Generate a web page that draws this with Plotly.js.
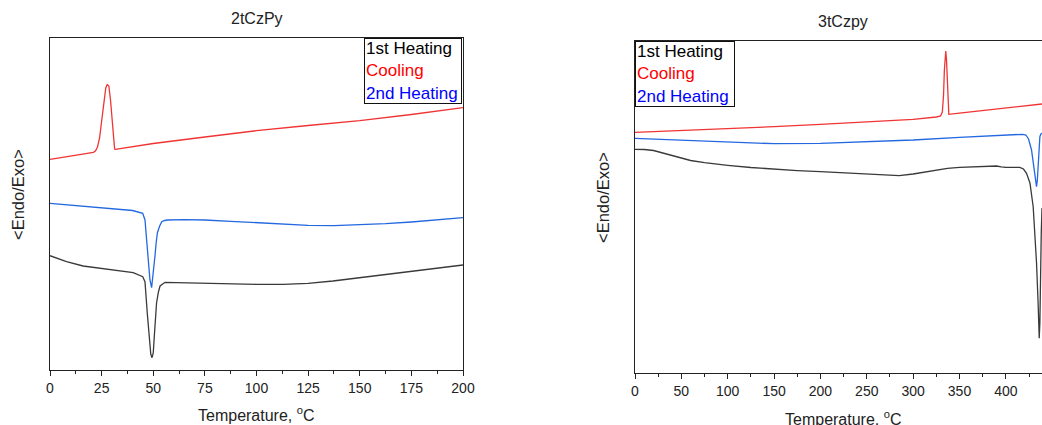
<!DOCTYPE html>
<html>
<head>
<meta charset="utf-8">
<script src="https://cdn.plot.ly/plotly-3.0.1.min.js"></script>
<style>html,body{margin:0;padding:0;background:#fff;}#chart{width:1042px;height:425px;}</style>
</head>
<body>
<div id="chart"></div>
<script>
// ---- 2tCzPy (left panel) ----
var left_heat1_T = [0,8,16,24.2,32.3,40.3,44.9,46,47.1,48.1,48.8,49.4,50,50.5,51.6,52.5,53.3,55.7,62.9,75,88.7,100,112.9,125,137,150,163,175,187,200];
var left_heat1_Q = [114.3,108.3,104,101.7,99.3,97.3,93.3,88.3,57,30,16,12.3,17,33.3,67,78,84,87.7,87.3,86.7,86,85.7,85.7,86.7,89,92.3,95.7,98.3,101.3,105];

var left_cool_T = [0,10,20,21,22,23,24,25,26,27,27.7,28.5,29.3,30,30.7,31.3,31.7,40,50,75,100,125,150,175,200];
var left_cool_Q = [210.7,214,217.2,217.7,219,223,232,248,267,282,285.5,284,270,250,230,221,220.7,223.5,226.5,233,239.3,244.5,249.3,255.5,262.3];

var left_heat2_T = [0,10,20,30,40,44.9,46,46.8,47.6,48.4,49.2,50,50.8,51.4,52,53,54.1,55.5,57,65,75,87.5,100,112.5,125,137.5,150,162.5,175,187.5,200];
var left_heat2_Q = [166.7,165,163.3,161.7,159.5,156.7,150,130,107,90,82.3,95,113.3,127,137,143.5,148.3,149.5,150,150.3,150,148.7,147.3,145.7,144.7,144.3,145,146.3,148,150,152.3];

// ---- 3tCzpy (right panel) ----
var right_heat1_T = [0,10,20,30,40,48.5,60,75,87,100,125,150,175,200,225,250,270,285,300,312,325,337,350,370,390,395,400,415,419,422.3,426,429.5,431.5,433.1,434.8,436,436.7,437.4,438.2,439];
var right_heat1_Q = [223.7,223.5,222.5,220,217,214.7,212.5,210.3,208.8,207.7,205.5,203.7,202.4,201.3,200.2,199,198,197.3,199,201,203,204.6,205.7,206.5,207,206.2,205.7,205.7,204,199.7,190,166.3,135,110,70,34.7,50,106.3,140,165];

var right_cool_T = [0,50,100,150,200,250,300,325,329.6,331.5,332.8,333.7,334.5,335.2,336,336.8,337.7,338.5,350,375,400,425,439];
var right_cool_Q = [240.7,242.5,244.3,246.3,248.7,251,253.7,256,257,261,278,303,320,322,313,288,265,258.7,259.8,262.3,264.8,267.3,269];

var right_heat2_T = [0,25,50,100,150,200,250,300,350,400,418,421.6,424.5,427.7,430,431.8,433.1,434,434.9,435.8,436.7,437.8,439];
var right_heat2_Q = [234.7,233.7,232.7,230.7,229.3,229.7,231,233,235.7,238,238.7,238,234,223,209,194,186.3,193,209.7,225,236.3,239,239.7];

var panelTitles = ["2tCzPy", "3tCzpy"];
var seriesNames = ["1st Heating", "Cooling", "2nd Heating"];
var yTitle = "&lt;Endo/Exo&gt;";
var xTitle = "Temperature, <sup>o</sup>C";

var W = 1042, H = 425;
function px(x){ return x / W; }
function py(y){ return 1 - y / H; }

var cBlack = "#3a3a3a", cRed = "#f03434", cBlue = "#2468e0";
var FONT = "Liberation Sans, Arial, sans-serif";

function tr(x, y, color, name, xa, ya){
  return {x: x, y: y, type: "scatter", mode: "lines", name: name,
          line: {color: color, width: 1.3}, xaxis: xa, yaxis: ya,
          showlegend: false, hoverinfo: "skip"};
}

var data = [
  tr(left_heat1_T, left_heat1_Q, cBlack, seriesNames[0], "x", "y"),
  tr(left_cool_T, left_cool_Q, cRed, seriesNames[1], "x", "y"),
  tr(left_heat2_T, left_heat2_Q, cBlue, seriesNames[2], "x", "y"),
  tr(right_heat1_T, right_heat1_Q, cBlack, seriesNames[0], "x2", "y2"),
  tr(right_cool_T, right_cool_Q, cRed, seriesNames[1], "x2", "y2"),
  tr(right_heat2_T, right_heat2_Q, cBlue, seriesNames[2], "x2", "y2")
];

function xax(domain, range, dtick, minorDtick, anchor){
  return {domain: domain, range: range, anchor: anchor,
    showline: true, linecolor: "#222", linewidth: 1, mirror: true,
    ticks: "outside", ticklen: 5, tickwidth: 1, tickcolor: "#222",
    dtick: dtick, tick0: 0,
    minor: {dtick: minorDtick, ticks: "outside", ticklen: 3, tickwidth: 1, tickcolor: "#222", showgrid: false},
    showgrid: false, zeroline: false,
    tickfont: {family: FONT, size: 14, color: "#222"}, fixedrange: true};
}
function yax(domain, range, mirror, anchor){
  return {domain: domain, range: range, anchor: anchor,
    showline: true, linecolor: "#222", linewidth: 1, mirror: mirror,
    ticks: "", showticklabels: false, showgrid: false, zeroline: false, fixedrange: true};
}

var legendText = seriesNames[0] + "<br><span style='color:#ff0000'>" + seriesNames[1] +
                 "</span><br><span style='color:#0000ff'>" + seriesNames[2] + "</span>";

function ann(text, x, y, size, opts){
  var a = {text: text, xref: "paper", yref: "paper", x: px(x), y: py(y),
           showarrow: false, xanchor: "center", yanchor: "middle",
           font: {family: FONT, size: size, color: "#222"}};
  for (var k in opts) a[k] = opts[k];
  return a;
}

var layout = {
  width: W, height: H,
  margin: {l: 0, r: 0, t: 0, b: 0, pad: 0},
  paper_bgcolor: "#fff", plot_bgcolor: "#fff",
  showlegend: false,
  xaxis: xax([px(50), px(463)], [0, 200], 25, 12.5, "y"),
  yaxis: yax([py(370), py(38)], [0, 332], true, "x"),
  xaxis2: xax([px(635), 1], [0, 439], 50, 25, "y2"),
  yaxis2: yax([py(373), py(41)], [0, 332], false, "x2"),
  annotations: [
    ann(panelTitles[0], 256.5, 19, 16),
    ann(panelTitles[1], 843, 21, 16),
    ann(xTitle, 256.5, 414, 16),
    ann(xTitle, 843, 418, 16),
    ann(yTitle, 18, 195, 16.5, {textangle: -90}),
    ann(yTitle, 603, 198, 16.5, {textangle: -90}),
    ann(legendText, 364, 38, 17, {xanchor: "left", yanchor: "top", align: "left",
        width: 94, height: 62, valign: "middle",
        bordercolor: "#111", borderwidth: 1, borderpad: 1, bgcolor: "#fff",
        font: {family: FONT, size: 17, color: "#000"}}),
    ann(legendText, 635, 41, 17, {xanchor: "left", yanchor: "top", align: "left",
        width: 96, height: 62, valign: "middle",
        bordercolor: "#111", borderwidth: 1, borderpad: 1, bgcolor: "#fff",
        font: {family: FONT, size: 17, color: "#000"}})
  ]
};

Plotly.newPlot("chart", data, layout, {staticPlot: true, displayModeBar: false});
</script>
</body>
</html>
